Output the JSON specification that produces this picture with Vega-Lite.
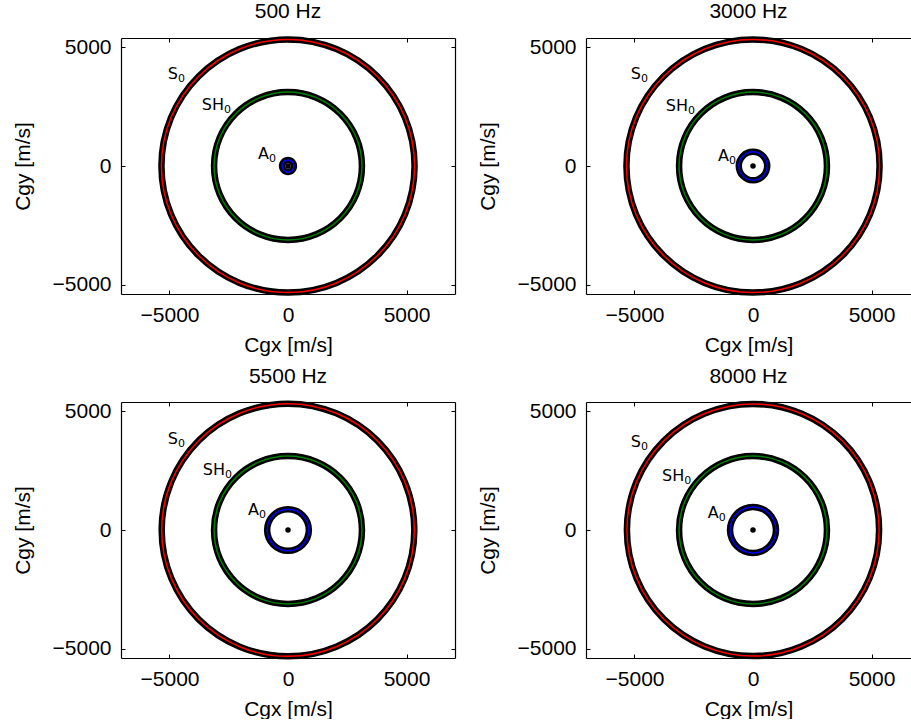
{
"$schema":"https://vega.github.io/schema/vega-lite/v6.json",
"padding":{"left":12,"top":1,"right":0,"bottom":0},
"datasets":{
"circles":[
{"f":500,"m":"S0","i":0,"x":5340,"y":0},{"f":500,"m":"S0","i":1,"x":4934,"y":2044},{"f":500,"m":"S0","i":2,"x":3776,"y":3776},{"f":500,"m":"S0","i":3,"x":2044,"y":4934},{"f":500,"m":"S0","i":4,"x":0,"y":5340},{"f":500,"m":"S0","i":5,"x":-2044,"y":4934},{"f":500,"m":"S0","i":6,"x":-3776,"y":3776},{"f":500,"m":"S0","i":7,"x":-4934,"y":2044},{"f":500,"m":"S0","i":8,"x":-5340,"y":0},{"f":500,"m":"S0","i":9,"x":-4934,"y":-2044},{"f":500,"m":"S0","i":10,"x":-3776,"y":-3776},{"f":500,"m":"S0","i":11,"x":-2044,"y":-4934},{"f":500,"m":"S0","i":12,"x":0,"y":-5340},{"f":500,"m":"S0","i":13,"x":2044,"y":-4934},{"f":500,"m":"S0","i":14,"x":3776,"y":-3776},{"f":500,"m":"S0","i":15,"x":4934,"y":-2044},
{"f":500,"m":"SH0","i":0,"x":3120,"y":0},{"f":500,"m":"SH0","i":1,"x":2883,"y":1194},{"f":500,"m":"SH0","i":2,"x":2206,"y":2206},{"f":500,"m":"SH0","i":3,"x":1194,"y":2883},{"f":500,"m":"SH0","i":4,"x":0,"y":3120},{"f":500,"m":"SH0","i":5,"x":-1194,"y":2883},{"f":500,"m":"SH0","i":6,"x":-2206,"y":2206},{"f":500,"m":"SH0","i":7,"x":-2883,"y":1194},{"f":500,"m":"SH0","i":8,"x":-3120,"y":0},{"f":500,"m":"SH0","i":9,"x":-2883,"y":-1194},{"f":500,"m":"SH0","i":10,"x":-2206,"y":-2206},{"f":500,"m":"SH0","i":11,"x":-1194,"y":-2883},{"f":500,"m":"SH0","i":12,"x":0,"y":-3120},{"f":500,"m":"SH0","i":13,"x":1194,"y":-2883},{"f":500,"m":"SH0","i":14,"x":2206,"y":-2206},{"f":500,"m":"SH0","i":15,"x":2883,"y":-1194},
{"f":500,"m":"A0","i":0,"x":250,"y":0},{"f":500,"m":"A0","i":1,"x":231,"y":96},{"f":500,"m":"A0","i":2,"x":177,"y":177},{"f":500,"m":"A0","i":3,"x":96,"y":231},{"f":500,"m":"A0","i":4,"x":0,"y":250},{"f":500,"m":"A0","i":5,"x":-96,"y":231},{"f":500,"m":"A0","i":6,"x":-177,"y":177},{"f":500,"m":"A0","i":7,"x":-231,"y":96},{"f":500,"m":"A0","i":8,"x":-250,"y":0},{"f":500,"m":"A0","i":9,"x":-231,"y":-96},{"f":500,"m":"A0","i":10,"x":-177,"y":-177},{"f":500,"m":"A0","i":11,"x":-96,"y":-231},{"f":500,"m":"A0","i":12,"x":0,"y":-250},{"f":500,"m":"A0","i":13,"x":96,"y":-231},{"f":500,"m":"A0","i":14,"x":177,"y":-177},{"f":500,"m":"A0","i":15,"x":231,"y":-96},
{"f":3000,"m":"S0","i":0,"x":5340,"y":0},{"f":3000,"m":"S0","i":1,"x":4934,"y":2044},{"f":3000,"m":"S0","i":2,"x":3776,"y":3776},{"f":3000,"m":"S0","i":3,"x":2044,"y":4934},{"f":3000,"m":"S0","i":4,"x":0,"y":5340},{"f":3000,"m":"S0","i":5,"x":-2044,"y":4934},{"f":3000,"m":"S0","i":6,"x":-3776,"y":3776},{"f":3000,"m":"S0","i":7,"x":-4934,"y":2044},{"f":3000,"m":"S0","i":8,"x":-5340,"y":0},{"f":3000,"m":"S0","i":9,"x":-4934,"y":-2044},{"f":3000,"m":"S0","i":10,"x":-3776,"y":-3776},{"f":3000,"m":"S0","i":11,"x":-2044,"y":-4934},{"f":3000,"m":"S0","i":12,"x":0,"y":-5340},{"f":3000,"m":"S0","i":13,"x":2044,"y":-4934},{"f":3000,"m":"S0","i":14,"x":3776,"y":-3776},{"f":3000,"m":"S0","i":15,"x":4934,"y":-2044},
{"f":3000,"m":"SH0","i":0,"x":3120,"y":0},{"f":3000,"m":"SH0","i":1,"x":2883,"y":1194},{"f":3000,"m":"SH0","i":2,"x":2206,"y":2206},{"f":3000,"m":"SH0","i":3,"x":1194,"y":2883},{"f":3000,"m":"SH0","i":4,"x":0,"y":3120},{"f":3000,"m":"SH0","i":5,"x":-1194,"y":2883},{"f":3000,"m":"SH0","i":6,"x":-2206,"y":2206},{"f":3000,"m":"SH0","i":7,"x":-2883,"y":1194},{"f":3000,"m":"SH0","i":8,"x":-3120,"y":0},{"f":3000,"m":"SH0","i":9,"x":-2883,"y":-1194},{"f":3000,"m":"SH0","i":10,"x":-2206,"y":-2206},{"f":3000,"m":"SH0","i":11,"x":-1194,"y":-2883},{"f":3000,"m":"SH0","i":12,"x":0,"y":-3120},{"f":3000,"m":"SH0","i":13,"x":1194,"y":-2883},{"f":3000,"m":"SH0","i":14,"x":2206,"y":-2206},{"f":3000,"m":"SH0","i":15,"x":2883,"y":-1194},
{"f":3000,"m":"A0","i":0,"x":600,"y":0},{"f":3000,"m":"A0","i":1,"x":554,"y":230},{"f":3000,"m":"A0","i":2,"x":424,"y":424},{"f":3000,"m":"A0","i":3,"x":230,"y":554},{"f":3000,"m":"A0","i":4,"x":0,"y":600},{"f":3000,"m":"A0","i":5,"x":-230,"y":554},{"f":3000,"m":"A0","i":6,"x":-424,"y":424},{"f":3000,"m":"A0","i":7,"x":-554,"y":230},{"f":3000,"m":"A0","i":8,"x":-600,"y":0},{"f":3000,"m":"A0","i":9,"x":-554,"y":-230},{"f":3000,"m":"A0","i":10,"x":-424,"y":-424},{"f":3000,"m":"A0","i":11,"x":-230,"y":-554},{"f":3000,"m":"A0","i":12,"x":0,"y":-600},{"f":3000,"m":"A0","i":13,"x":230,"y":-554},{"f":3000,"m":"A0","i":14,"x":424,"y":-424},{"f":3000,"m":"A0","i":15,"x":554,"y":-230},
{"f":5500,"m":"S0","i":0,"x":5330,"y":0},{"f":5500,"m":"S0","i":1,"x":4924,"y":2040},{"f":5500,"m":"S0","i":2,"x":3769,"y":3769},{"f":5500,"m":"S0","i":3,"x":2040,"y":4924},{"f":5500,"m":"S0","i":4,"x":0,"y":5330},{"f":5500,"m":"S0","i":5,"x":-2040,"y":4924},{"f":5500,"m":"S0","i":6,"x":-3769,"y":3769},{"f":5500,"m":"S0","i":7,"x":-4924,"y":2040},{"f":5500,"m":"S0","i":8,"x":-5330,"y":0},{"f":5500,"m":"S0","i":9,"x":-4924,"y":-2040},{"f":5500,"m":"S0","i":10,"x":-3769,"y":-3769},{"f":5500,"m":"S0","i":11,"x":-2040,"y":-4924},{"f":5500,"m":"S0","i":12,"x":0,"y":-5330},{"f":5500,"m":"S0","i":13,"x":2040,"y":-4924},{"f":5500,"m":"S0","i":14,"x":3769,"y":-3769},{"f":5500,"m":"S0","i":15,"x":4924,"y":-2040},
{"f":5500,"m":"SH0","i":0,"x":3120,"y":0},{"f":5500,"m":"SH0","i":1,"x":2883,"y":1194},{"f":5500,"m":"SH0","i":2,"x":2206,"y":2206},{"f":5500,"m":"SH0","i":3,"x":1194,"y":2883},{"f":5500,"m":"SH0","i":4,"x":0,"y":3120},{"f":5500,"m":"SH0","i":5,"x":-1194,"y":2883},{"f":5500,"m":"SH0","i":6,"x":-2206,"y":2206},{"f":5500,"m":"SH0","i":7,"x":-2883,"y":1194},{"f":5500,"m":"SH0","i":8,"x":-3120,"y":0},{"f":5500,"m":"SH0","i":9,"x":-2883,"y":-1194},{"f":5500,"m":"SH0","i":10,"x":-2206,"y":-2206},{"f":5500,"m":"SH0","i":11,"x":-1194,"y":-2883},{"f":5500,"m":"SH0","i":12,"x":0,"y":-3120},{"f":5500,"m":"SH0","i":13,"x":1194,"y":-2883},{"f":5500,"m":"SH0","i":14,"x":2206,"y":-2206},{"f":5500,"m":"SH0","i":15,"x":2883,"y":-1194},
{"f":5500,"m":"A0","i":0,"x":880,"y":0},{"f":5500,"m":"A0","i":1,"x":813,"y":337},{"f":5500,"m":"A0","i":2,"x":622,"y":622},{"f":5500,"m":"A0","i":3,"x":337,"y":813},{"f":5500,"m":"A0","i":4,"x":0,"y":880},{"f":5500,"m":"A0","i":5,"x":-337,"y":813},{"f":5500,"m":"A0","i":6,"x":-622,"y":622},{"f":5500,"m":"A0","i":7,"x":-813,"y":337},{"f":5500,"m":"A0","i":8,"x":-880,"y":0},{"f":5500,"m":"A0","i":9,"x":-813,"y":-337},{"f":5500,"m":"A0","i":10,"x":-622,"y":-622},{"f":5500,"m":"A0","i":11,"x":-337,"y":-813},{"f":5500,"m":"A0","i":12,"x":0,"y":-880},{"f":5500,"m":"A0","i":13,"x":337,"y":-813},{"f":5500,"m":"A0","i":14,"x":622,"y":-622},{"f":5500,"m":"A0","i":15,"x":813,"y":-337},
{"f":8000,"m":"S0","i":0,"x":5320,"y":0},{"f":8000,"m":"S0","i":1,"x":4915,"y":2036},{"f":8000,"m":"S0","i":2,"x":3762,"y":3762},{"f":8000,"m":"S0","i":3,"x":2036,"y":4915},{"f":8000,"m":"S0","i":4,"x":0,"y":5320},{"f":8000,"m":"S0","i":5,"x":-2036,"y":4915},{"f":8000,"m":"S0","i":6,"x":-3762,"y":3762},{"f":8000,"m":"S0","i":7,"x":-4915,"y":2036},{"f":8000,"m":"S0","i":8,"x":-5320,"y":0},{"f":8000,"m":"S0","i":9,"x":-4915,"y":-2036},{"f":8000,"m":"S0","i":10,"x":-3762,"y":-3762},{"f":8000,"m":"S0","i":11,"x":-2036,"y":-4915},{"f":8000,"m":"S0","i":12,"x":0,"y":-5320},{"f":8000,"m":"S0","i":13,"x":2036,"y":-4915},{"f":8000,"m":"S0","i":14,"x":3762,"y":-3762},{"f":8000,"m":"S0","i":15,"x":4915,"y":-2036},
{"f":8000,"m":"SH0","i":0,"x":3120,"y":0},{"f":8000,"m":"SH0","i":1,"x":2883,"y":1194},{"f":8000,"m":"SH0","i":2,"x":2206,"y":2206},{"f":8000,"m":"SH0","i":3,"x":1194,"y":2883},{"f":8000,"m":"SH0","i":4,"x":0,"y":3120},{"f":8000,"m":"SH0","i":5,"x":-1194,"y":2883},{"f":8000,"m":"SH0","i":6,"x":-2206,"y":2206},{"f":8000,"m":"SH0","i":7,"x":-2883,"y":1194},{"f":8000,"m":"SH0","i":8,"x":-3120,"y":0},{"f":8000,"m":"SH0","i":9,"x":-2883,"y":-1194},{"f":8000,"m":"SH0","i":10,"x":-2206,"y":-2206},{"f":8000,"m":"SH0","i":11,"x":-1194,"y":-2883},{"f":8000,"m":"SH0","i":12,"x":0,"y":-3120},{"f":8000,"m":"SH0","i":13,"x":1194,"y":-2883},{"f":8000,"m":"SH0","i":14,"x":2206,"y":-2206},{"f":8000,"m":"SH0","i":15,"x":2883,"y":-1194},
{"f":8000,"m":"A0","i":0,"x":970,"y":0},{"f":8000,"m":"A0","i":1,"x":896,"y":371},{"f":8000,"m":"A0","i":2,"x":686,"y":686},{"f":8000,"m":"A0","i":3,"x":371,"y":896},{"f":8000,"m":"A0","i":4,"x":0,"y":970},{"f":8000,"m":"A0","i":5,"x":-371,"y":896},{"f":8000,"m":"A0","i":6,"x":-686,"y":686},{"f":8000,"m":"A0","i":7,"x":-896,"y":371},{"f":8000,"m":"A0","i":8,"x":-970,"y":0},{"f":8000,"m":"A0","i":9,"x":-896,"y":-371},{"f":8000,"m":"A0","i":10,"x":-686,"y":-686},{"f":8000,"m":"A0","i":11,"x":-371,"y":-896},{"f":8000,"m":"A0","i":12,"x":0,"y":-970},{"f":8000,"m":"A0","i":13,"x":371,"y":-896},{"f":8000,"m":"A0","i":14,"x":686,"y":-686},{"f":8000,"m":"A0","i":15,"x":896,"y":-371}
],
"dots":[{"f":500,"x":0,"y":0},{"f":3000,"x":0,"y":0},{"f":5500,"x":0,"y":0},{"f":8000,"x":0,"y":0}],
"labels":[
{"f":500,"base":"S","sub":"0","x":-4641,"y":3671},{"f":500,"base":"SH","sub":"0","x":-2700,"y":2363},{"f":500,"base":"A","sub":"0","x":-802,"y":295},
{"f":3000,"base":"S","sub":"0","x":-4725,"y":3671},{"f":3000,"base":"SH","sub":"0","x":-2740,"y":2320},{"f":3000,"base":"A","sub":"0","x":-1013,"y":211},
{"f":5500,"base":"S","sub":"0","x":-4641,"y":3630},{"f":5500,"base":"SH","sub":"0","x":-2660,"y":2320},{"f":5500,"base":"A","sub":"0","x":-1224,"y":633},
{"f":8000,"base":"S","sub":"0","x":-4725,"y":3500},{"f":8000,"base":"SH","sub":"0","x":-2900,"y":2070},{"f":8000,"base":"A","sub":"0","x":-1450,"y":506}
]
},
"concat":[
{"title":{"text":"500 Hz"},"width":334,"height":256,
"layer":[
{"data":{"name":"circles"},"transform":[{"filter":"datum.f == 500"}],"mark":{"type":"line","interpolate":"cardinal-closed","stroke":"black","strokeWidth":6.5},
"encoding":{"x":{"field":"x","type":"quantitative","scale":{"domain":[-7046,7046],"nice":false,"zero":false},"axis":{"orient":"bottom","values":[-5000,0,5000],"format":"d","title":"Cgx [m/s]"}},
"y":{"field":"y","type":"quantitative","scale":{"domain":[-5400,5400],"nice":false,"zero":false},"axis":{"orient":"left","values":[-5000,0,5000],"format":"d","title":"Cgy [m/s]"}},
"detail":{"field":"m"},"order":{"field":"i","type":"quantitative"}}},
{"data":{"name":"circles"},"transform":[{"filter":"datum.f == 500"}],"mark":{"type":"line","interpolate":"cardinal-closed","strokeWidth":1.5},
"encoding":{"x":{"field":"x","type":"quantitative","scale":{"domain":[-7046,7046],"nice":false,"zero":false},"axis":null},
"y":{"field":"y","type":"quantitative","scale":{"domain":[-5400,5400],"nice":false,"zero":false},"axis":null},
"color":{"field":"m","type":"nominal","scale":{"domain":["S0","SH0","A0"],"range":["#ff0000","#008000","#0000ff"]},"legend":null},"order":{"field":"i","type":"quantitative"}}},
{"data":{"name":"dots"},"transform":[{"filter":"datum.f == 500"}],"mark":{"type":"point","filled":true,"color":"black","size":30,"opacity":1},
"encoding":{"x":{"field":"x","type":"quantitative","scale":{"domain":[-7046,7046],"nice":false,"zero":false},"axis":null},"y":{"field":"y","type":"quantitative","scale":{"domain":[-5400,5400],"nice":false,"zero":false},"axis":null}}},
{"data":{"name":"labels"},"transform":[{"filter":"datum.f == 500"}],"mark":{"type":"text","align":"right","baseline":"alphabetic","font":"DejaVu Sans","fontSize":16,"color":"black"},
"encoding":{"x":{"field":"x","type":"quantitative","scale":{"domain":[-7046,7046],"nice":false,"zero":false},"axis":null},"y":{"field":"y","type":"quantitative","scale":{"domain":[-5400,5400],"nice":false,"zero":false},"axis":null},"text":{"field":"base"}}},
{"data":{"name":"labels"},"transform":[{"filter":"datum.f == 500"}],"mark":{"type":"text","align":"left","baseline":"alphabetic","font":"DejaVu Sans","fontSize":11,"dy":3,"color":"black"},
"encoding":{"x":{"field":"x","type":"quantitative","scale":{"domain":[-7046,7046],"nice":false,"zero":false},"axis":null},"y":{"field":"y","type":"quantitative","scale":{"domain":[-5400,5400],"nice":false,"zero":false},"axis":null},"text":{"field":"sub"}}},
{"data":{"name":"dots"},"transform":[{"filter":"datum.f == 500"}],"mark":{"type":"point","opacity":0},
"encoding":{"x":{"field":"x","type":"quantitative","scale":{"domain":[-7046,7046],"nice":false,"zero":false},"axis":{"orient":"top","values":[-5000,0,5000],"labels":false,"title":null}},"y":{"field":"y","type":"quantitative","scale":{"domain":[-5400,5400],"nice":false,"zero":false},"axis":{"orient":"right","values":[-5000,0,5000],"labels":false,"title":null}}}}
],
"resolve":{"axis":{"x":"independent","y":"independent"}}},
{"title":{"text":"3000 Hz"},"width":325,"height":256,
"layer":[
{"data":{"name":"circles"},"transform":[{"filter":"datum.f == 3000"}],"mark":{"type":"line","interpolate":"cardinal-closed","stroke":"black","strokeWidth":6.5},
"encoding":{"x":{"field":"x","type":"quantitative","scale":{"domain":[-7046,6666],"nice":false,"zero":false},"axis":{"orient":"bottom","values":[-5000,0,5000],"format":"d","title":"Cgx [m/s]"}},
"y":{"field":"y","type":"quantitative","scale":{"domain":[-5400,5400],"nice":false,"zero":false},"axis":{"orient":"left","values":[-5000,0,5000],"format":"d","title":"Cgy [m/s]"}},
"detail":{"field":"m"},"order":{"field":"i","type":"quantitative"}}},
{"data":{"name":"circles"},"transform":[{"filter":"datum.f == 3000"}],"mark":{"type":"line","interpolate":"cardinal-closed","strokeWidth":1.5},
"encoding":{"x":{"field":"x","type":"quantitative","scale":{"domain":[-7046,6666],"nice":false,"zero":false},"axis":null},
"y":{"field":"y","type":"quantitative","scale":{"domain":[-5400,5400],"nice":false,"zero":false},"axis":null},
"color":{"field":"m","type":"nominal","scale":{"domain":["S0","SH0","A0"],"range":["#ff0000","#008000","#0000ff"]},"legend":null},"order":{"field":"i","type":"quantitative"}}},
{"data":{"name":"dots"},"transform":[{"filter":"datum.f == 3000"}],"mark":{"type":"point","filled":true,"color":"black","size":30,"opacity":1},
"encoding":{"x":{"field":"x","type":"quantitative","scale":{"domain":[-7046,6666],"nice":false,"zero":false},"axis":null},"y":{"field":"y","type":"quantitative","scale":{"domain":[-5400,5400],"nice":false,"zero":false},"axis":null}}},
{"data":{"name":"labels"},"transform":[{"filter":"datum.f == 3000"}],"mark":{"type":"text","align":"right","baseline":"alphabetic","font":"DejaVu Sans","fontSize":16,"color":"black"},
"encoding":{"x":{"field":"x","type":"quantitative","scale":{"domain":[-7046,6666],"nice":false,"zero":false},"axis":null},"y":{"field":"y","type":"quantitative","scale":{"domain":[-5400,5400],"nice":false,"zero":false},"axis":null},"text":{"field":"base"}}},
{"data":{"name":"labels"},"transform":[{"filter":"datum.f == 3000"}],"mark":{"type":"text","align":"left","baseline":"alphabetic","font":"DejaVu Sans","fontSize":11,"dy":3,"color":"black"},
"encoding":{"x":{"field":"x","type":"quantitative","scale":{"domain":[-7046,6666],"nice":false,"zero":false},"axis":null},"y":{"field":"y","type":"quantitative","scale":{"domain":[-5400,5400],"nice":false,"zero":false},"axis":null},"text":{"field":"sub"}}},
{"data":{"name":"dots"},"transform":[{"filter":"datum.f == 3000"}],"mark":{"type":"point","opacity":0},
"encoding":{"x":{"field":"x","type":"quantitative","scale":{"domain":[-7046,6666],"nice":false,"zero":false},"axis":{"orient":"top","values":[-5000,0,5000],"labels":false,"title":null}},"y":{"field":"y","type":"quantitative","scale":{"domain":[-5400,5400],"nice":false,"zero":false},"axis":null}}}
],
"resolve":{"axis":{"x":"independent","y":"independent"}}},
{"title":{"text":"5500 Hz"},"width":334,"height":256,
"layer":[
{"data":{"name":"circles"},"transform":[{"filter":"datum.f == 5500"}],"mark":{"type":"line","interpolate":"cardinal-closed","stroke":"black","strokeWidth":6.5},
"encoding":{"x":{"field":"x","type":"quantitative","scale":{"domain":[-7046,7046],"nice":false,"zero":false},"axis":{"orient":"bottom","values":[-5000,0,5000],"format":"d","title":"Cgx [m/s]"}},
"y":{"field":"y","type":"quantitative","scale":{"domain":[-5400,5400],"nice":false,"zero":false},"axis":{"orient":"left","values":[-5000,0,5000],"format":"d","title":"Cgy [m/s]"}},
"detail":{"field":"m"},"order":{"field":"i","type":"quantitative"}}},
{"data":{"name":"circles"},"transform":[{"filter":"datum.f == 5500"}],"mark":{"type":"line","interpolate":"cardinal-closed","strokeWidth":1.5},
"encoding":{"x":{"field":"x","type":"quantitative","scale":{"domain":[-7046,7046],"nice":false,"zero":false},"axis":null},
"y":{"field":"y","type":"quantitative","scale":{"domain":[-5400,5400],"nice":false,"zero":false},"axis":null},
"color":{"field":"m","type":"nominal","scale":{"domain":["S0","SH0","A0"],"range":["#ff0000","#008000","#0000ff"]},"legend":null},"order":{"field":"i","type":"quantitative"}}},
{"data":{"name":"dots"},"transform":[{"filter":"datum.f == 5500"}],"mark":{"type":"point","filled":true,"color":"black","size":30,"opacity":1},
"encoding":{"x":{"field":"x","type":"quantitative","scale":{"domain":[-7046,7046],"nice":false,"zero":false},"axis":null},"y":{"field":"y","type":"quantitative","scale":{"domain":[-5400,5400],"nice":false,"zero":false},"axis":null}}},
{"data":{"name":"labels"},"transform":[{"filter":"datum.f == 5500"}],"mark":{"type":"text","align":"right","baseline":"alphabetic","font":"DejaVu Sans","fontSize":16,"color":"black"},
"encoding":{"x":{"field":"x","type":"quantitative","scale":{"domain":[-7046,7046],"nice":false,"zero":false},"axis":null},"y":{"field":"y","type":"quantitative","scale":{"domain":[-5400,5400],"nice":false,"zero":false},"axis":null},"text":{"field":"base"}}},
{"data":{"name":"labels"},"transform":[{"filter":"datum.f == 5500"}],"mark":{"type":"text","align":"left","baseline":"alphabetic","font":"DejaVu Sans","fontSize":11,"dy":3,"color":"black"},
"encoding":{"x":{"field":"x","type":"quantitative","scale":{"domain":[-7046,7046],"nice":false,"zero":false},"axis":null},"y":{"field":"y","type":"quantitative","scale":{"domain":[-5400,5400],"nice":false,"zero":false},"axis":null},"text":{"field":"sub"}}},
{"data":{"name":"dots"},"transform":[{"filter":"datum.f == 5500"}],"mark":{"type":"point","opacity":0},
"encoding":{"x":{"field":"x","type":"quantitative","scale":{"domain":[-7046,7046],"nice":false,"zero":false},"axis":{"orient":"top","values":[-5000,0,5000],"labels":false,"title":null}},"y":{"field":"y","type":"quantitative","scale":{"domain":[-5400,5400],"nice":false,"zero":false},"axis":{"orient":"right","values":[-5000,0,5000],"labels":false,"title":null}}}}
],
"resolve":{"axis":{"x":"independent","y":"independent"}}},
{"title":{"text":"8000 Hz"},"width":325,"height":256,
"layer":[
{"data":{"name":"circles"},"transform":[{"filter":"datum.f == 8000"}],"mark":{"type":"line","interpolate":"cardinal-closed","stroke":"black","strokeWidth":6.5},
"encoding":{"x":{"field":"x","type":"quantitative","scale":{"domain":[-7046,6666],"nice":false,"zero":false},"axis":{"orient":"bottom","values":[-5000,0,5000],"format":"d","title":"Cgx [m/s]"}},
"y":{"field":"y","type":"quantitative","scale":{"domain":[-5400,5400],"nice":false,"zero":false},"axis":{"orient":"left","values":[-5000,0,5000],"format":"d","title":"Cgy [m/s]"}},
"detail":{"field":"m"},"order":{"field":"i","type":"quantitative"}}},
{"data":{"name":"circles"},"transform":[{"filter":"datum.f == 8000"}],"mark":{"type":"line","interpolate":"cardinal-closed","strokeWidth":1.5},
"encoding":{"x":{"field":"x","type":"quantitative","scale":{"domain":[-7046,6666],"nice":false,"zero":false},"axis":null},
"y":{"field":"y","type":"quantitative","scale":{"domain":[-5400,5400],"nice":false,"zero":false},"axis":null},
"color":{"field":"m","type":"nominal","scale":{"domain":["S0","SH0","A0"],"range":["#ff0000","#008000","#0000ff"]},"legend":null},"order":{"field":"i","type":"quantitative"}}},
{"data":{"name":"dots"},"transform":[{"filter":"datum.f == 8000"}],"mark":{"type":"point","filled":true,"color":"black","size":30,"opacity":1},
"encoding":{"x":{"field":"x","type":"quantitative","scale":{"domain":[-7046,6666],"nice":false,"zero":false},"axis":null},"y":{"field":"y","type":"quantitative","scale":{"domain":[-5400,5400],"nice":false,"zero":false},"axis":null}}},
{"data":{"name":"labels"},"transform":[{"filter":"datum.f == 8000"}],"mark":{"type":"text","align":"right","baseline":"alphabetic","font":"DejaVu Sans","fontSize":16,"color":"black"},
"encoding":{"x":{"field":"x","type":"quantitative","scale":{"domain":[-7046,6666],"nice":false,"zero":false},"axis":null},"y":{"field":"y","type":"quantitative","scale":{"domain":[-5400,5400],"nice":false,"zero":false},"axis":null},"text":{"field":"base"}}},
{"data":{"name":"labels"},"transform":[{"filter":"datum.f == 8000"}],"mark":{"type":"text","align":"left","baseline":"alphabetic","font":"DejaVu Sans","fontSize":11,"dy":3,"color":"black"},
"encoding":{"x":{"field":"x","type":"quantitative","scale":{"domain":[-7046,6666],"nice":false,"zero":false},"axis":null},"y":{"field":"y","type":"quantitative","scale":{"domain":[-5400,5400],"nice":false,"zero":false},"axis":null},"text":{"field":"sub"}}},
{"data":{"name":"dots"},"transform":[{"filter":"datum.f == 8000"}],"mark":{"type":"point","opacity":0},
"encoding":{"x":{"field":"x","type":"quantitative","scale":{"domain":[-7046,6666],"nice":false,"zero":false},"axis":{"orient":"top","values":[-5000,0,5000],"labels":false,"title":null}},"y":{"field":"y","type":"quantitative","scale":{"domain":[-5400,5400],"nice":false,"zero":false},"axis":null}}}
],
"resolve":{"axis":{"x":"independent","y":"independent"}}}
],
"columns":2,
"spacing":{"row":108,"column":131},
"bounds":"flush",
"config":{
"view":{"stroke":null},
"axis":{"domainColor":"black","domainWidth":1.2,"tickColor":"black","tickSize":-4,"tickWidth":1,"labelPadding":14,"labelFont":"Liberation Sans","labelFontSize":21,"labelColor":"black","titleFont":"Liberation Sans","titleFontSize":21,"titleFontWeight":"normal","titleColor":"black","grid":false},
"axisX":{"titlePadding":9},
"axisY":{"titlePadding":19},
"title":{"font":"Liberation Sans","fontSize":21,"fontWeight":"normal","color":"black","offset":0}
}
}
